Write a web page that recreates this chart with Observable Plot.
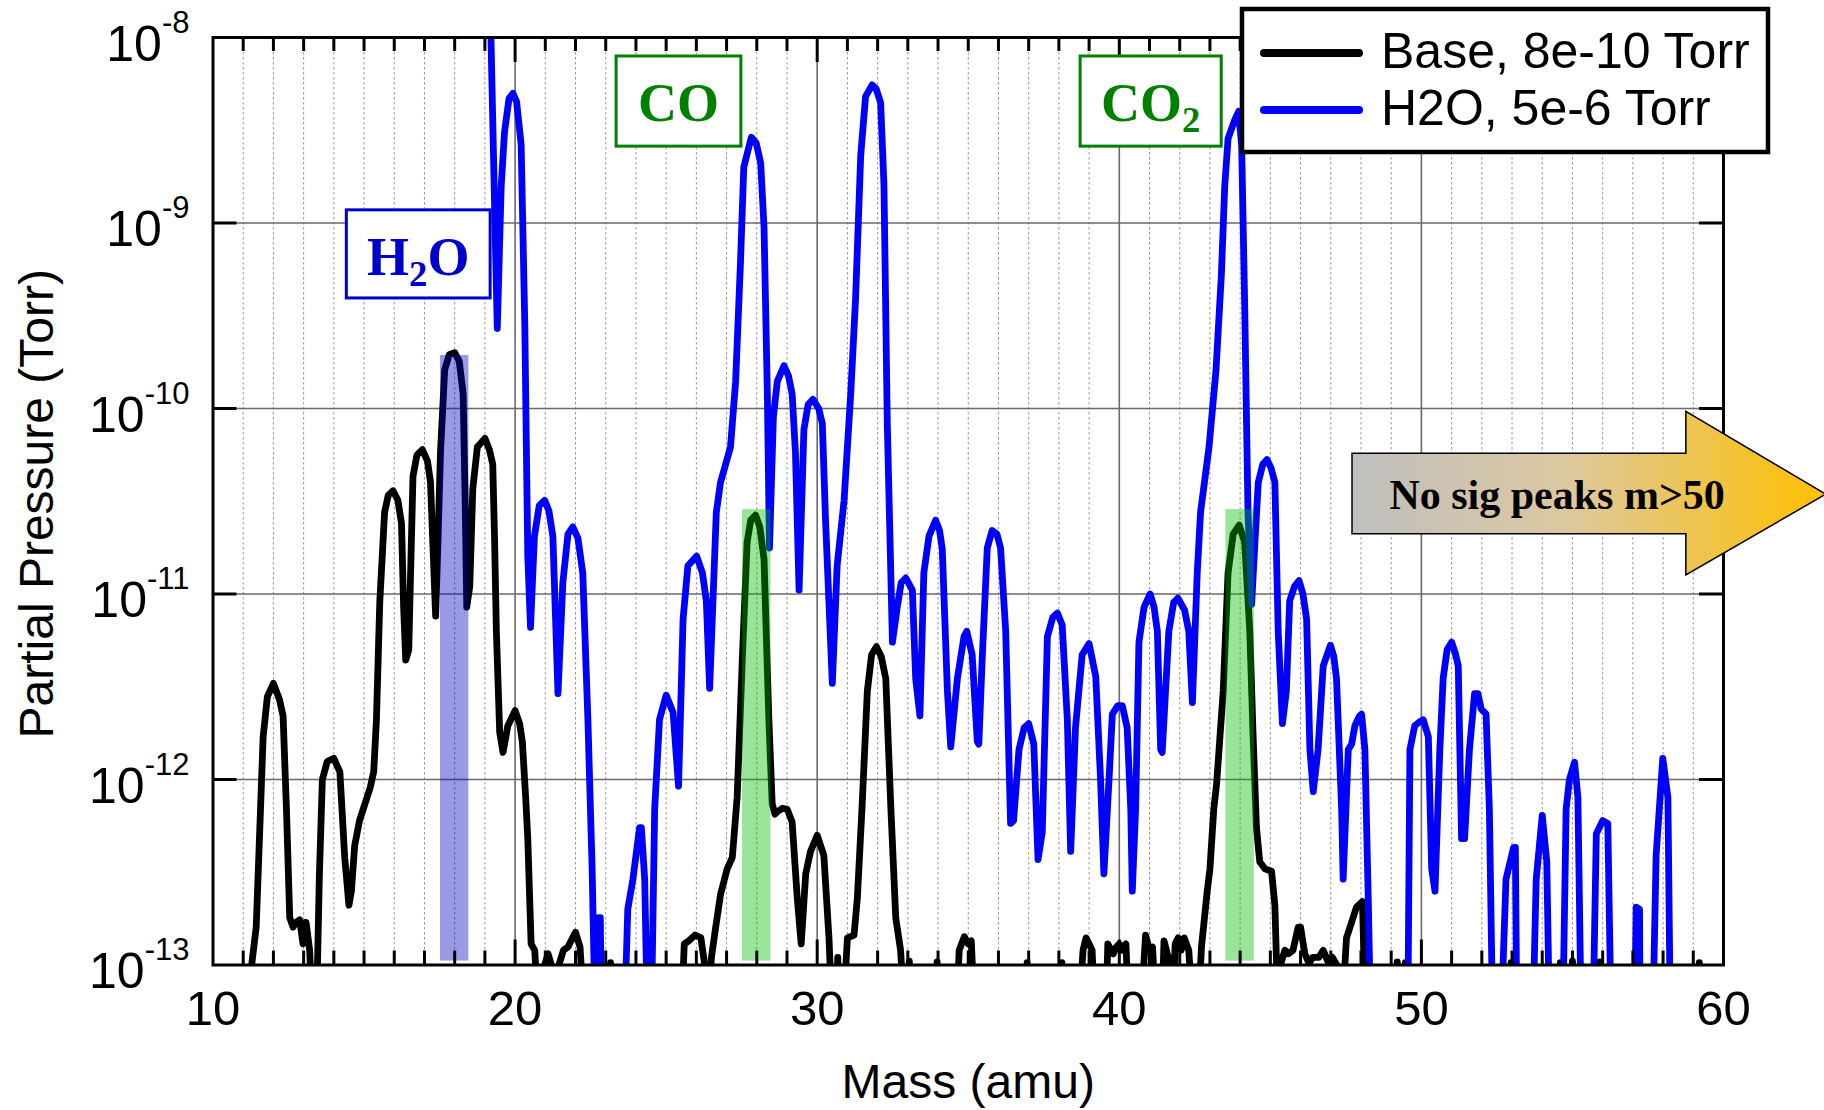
<!DOCTYPE html>
<html>
<head>
<meta charset="utf-8">
<script src="https://cdn.jsdelivr.net/npm/d3@7"></script>
<script src="https://cdn.jsdelivr.net/npm/@observablehq/plot@0.6"></script>
<style>
  html, body { margin: 0; padding: 0; background: #fff; }
  #chart { width: 1824px; height: 1110px; overflow: hidden; }
</style>
</head>
<body>
<div id="chart"></div>
<script>
// ---------------- DATA ----------------
const seriesNames = ["Base, 8e-10 Torr", "H2O, 5e-6 Torr"];

const baseMass = [
  11.20, 11.28, 11.43, 11.66, 11.80, 12.00, 12.20, 12.32, 12.43, 12.54, 12.65, 12.75, 12.87, 12.98, 13.08, 13.20, 13.30, 13.42,
  13.52, 13.62, 13.78, 14.00, 14.20, 14.36, 14.50, 14.58, 14.69, 14.85, 14.97, 15.20, 15.32, 15.41, 15.52, 15.68, 15.80, 15.96,
  16.12, 16.24, 16.31, 16.38, 16.48, 16.55, 16.62, 16.75, 16.93, 17.10, 17.20, 17.30, 17.37, 17.45, 17.53, 17.67, 17.82, 18.00,
  18.15, 18.28, 18.35, 18.40, 18.50, 18.60, 18.75, 19.00, 19.15, 19.26, 19.32, 19.38, 19.49, 19.60, 19.76, 20.00, 20.15, 20.24,
  20.35, 20.42, 20.53, 20.65, 20.78, 20.98, 21.09, 21.20, 21.30, 21.45, 21.60, 21.75, 21.90, 22.00, 22.15, 22.30, 23.10, 23.16,
  23.22, 25.50, 25.60, 25.75, 25.96, 26.15, 26.26, 26.36, 26.50, 26.64, 26.80, 27.02, 27.19, 27.35, 27.52, 27.68, 27.80, 27.96,
  28.10, 28.24, 28.33, 28.40, 28.51, 28.60, 28.68, 28.85, 29.01, 29.17, 29.34, 29.47, 29.62, 29.78, 30.00, 30.22, 30.39, 30.50,
  30.62, 30.68, 30.75, 30.85, 31.00, 31.22, 31.33, 31.49, 31.66, 31.80, 31.96, 32.12, 32.27, 32.44, 32.60, 32.76, 32.90, 33.05,
  33.15, 33.92, 33.97, 34.02, 34.60, 34.70, 34.87, 35.00, 35.10, 35.22, 36.90, 36.95, 37.00, 38.05, 38.10, 38.15, 38.65, 38.80,
  38.90, 39.00, 39.10, 39.20, 39.55, 39.62, 39.80, 39.90, 40.00, 40.10, 40.22, 40.32, 40.70, 40.87, 41.00, 41.10, 41.22, 41.40,
  41.48, 41.62, 41.75, 41.85, 41.95, 42.05, 42.15, 42.30, 42.45, 42.60, 42.72, 42.91, 43.00, 43.13, 43.22, 43.44, 43.60, 43.77,
  43.97, 44.15, 44.32, 44.43, 44.54, 44.65, 44.82, 45.04, 45.15, 45.26, 45.35, 45.48, 45.60, 45.75, 45.92, 46.00, 46.14, 46.28,
  46.40, 46.60, 46.75, 46.90, 47.05, 47.20, 47.36, 47.52, 47.69, 47.85, 48.05, 48.15, 49.15, 49.20, 49.28, 49.42, 49.47, 49.52,
  52.92, 52.97, 53.02, 54.55, 54.60, 54.65, 54.95, 55.00, 55.05, 55.85, 55.90, 55.95, 59.15, 59.20, 59.25
];
const basePressure = [
  5e-14, 1.0e-13, 1.6e-13, 1.7e-12, 2.8e-12, 3.3e-12, 2.7e-12, 2.2e-12, 7e-13, 1.8e-13, 1.6e-13, 1.7e-13, 1.75e-13, 1.3e-13, 1.7e-13, 1.2e-13, 5e-14, 5e-14,
  3e-13, 1.0e-12, 1.25e-12, 1.3e-12, 1.1e-12, 3.8e-13, 2.1e-13, 2.5e-13, 4.4e-13, 6e-13, 6.9e-13, 9e-13, 1.1e-12, 2.1e-12, 9e-12, 2.76e-11, 3.4e-11, 3.6e-11,
  3.2e-11, 2.4e-11, 8.5e-12, 4.4e-12, 5e-12, 1.5e-11, 4.3e-11, 5.6e-11, 6e-11, 5.2e-11, 4e-11, 1.5e-11, 7.6e-12, 2e-11, 5.8e-11, 1.62e-10, 1.95e-10, 2.0e-10,
  1.8e-10, 1.2e-10, 3e-11, 8.5e-12, 1.1e-11, 3.7e-11, 6.2e-11, 6.9e-11, 6e-11, 5e-11, 2e-11, 6.3e-12, 1.8e-12, 1.4e-12, 1.95e-12, 2.35e-12, 2.0e-12, 1.6e-12,
  8e-13, 4.8e-13, 1.3e-13, 1.2e-13, 5e-14, 1.0e-13, 1.15e-13, 1.0e-13, 5e-14, 1.0e-13, 1.2e-13, 1.25e-13, 1.4e-13, 1.5e-13, 1.25e-13, 5e-14, 5e-14, 1.03e-13,
  5e-14, 5e-14, 1.3e-13, 1.35e-13, 1.45e-13, 1.4e-13, 1.05e-13, 5e-14, 1.1e-13, 1.6e-13, 2.4e-13, 3.3e-13, 3.8e-13, 8e-13, 4.4e-12, 1.9e-11, 2.5e-11, 2.66e-11,
  2.3e-11, 1.54e-11, 5e-12, 2.1e-12, 7.4e-13, 6.5e-13, 6.7e-13, 7e-13, 6.9e-13, 5.9e-13, 2.3e-13, 1.3e-13, 3.1e-13, 4.1e-13, 5e-13, 3.9e-13, 1.4e-13, 5e-14,
  5e-14, 1.1e-13, 5e-14, 5e-14, 1.4e-13, 1.45e-13, 2.3e-13, 7.4e-13, 3.0e-12, 4.7e-12, 5.2e-12, 4.6e-12, 3.5e-12, 6.9e-13, 1.8e-13, 1.2e-13, 5e-14, 1.05e-13,
  5e-14, 5e-14, 1.04e-13, 5e-14, 5e-14, 1.2e-13, 1.42e-13, 1.3e-13, 1.35e-13, 5e-14, 5e-14, 1.03e-13, 5e-14, 5e-14, 1.03e-13, 5e-14, 5e-14, 1.2e-13,
  1.4e-13, 1.3e-13, 1.2e-13, 5e-14, 5e-14, 1.3e-13, 1.15e-13, 1.25e-13, 1.3e-13, 1.2e-13, 1.3e-13, 5e-14, 5e-14, 1.45e-13, 1.2e-13, 1.25e-13, 5e-14, 5e-14,
  1.35e-13, 1.1e-13, 5e-14, 1.3e-13, 1.4e-13, 1.2e-13, 1.4e-13, 1.2e-13, 5e-14, 5e-14, 1.25e-13, 2.5e-13, 3.3e-13, 7e-13, 9.4e-13, 3.0e-12, 1.3e-11, 2.1e-11,
  2.35e-11, 1.9e-11, 6.3e-12, 1.7e-12, 5.5e-13, 3.6e-13, 3.3e-13, 3.2e-13, 2.1e-13, 5e-14, 1.02e-13, 1.2e-13, 1.15e-13, 1.2e-13, 1.6e-13, 1.6e-13, 1.15e-13, 1.02e-13,
  1.1e-13, 1.1e-13, 1.2e-13, 1.05e-13, 1.1e-13, 1.0e-13, 5e-14, 1.4e-13, 1.7e-13, 2.05e-13, 2.2e-13, 5e-14, 5e-14, 1.04e-13, 5e-14, 5e-14, 1.03e-13, 5e-14,
  5e-14, 1.03e-13, 5e-14, 5e-14, 1.03e-13, 5e-14, 5e-14, 1.05e-13, 5e-14, 5e-14, 1.04e-13, 5e-14, 5e-14, 1.03e-13, 5e-14
];

const h2oMass = [
  19.19, 19.41, 19.54, 19.65, 19.80, 19.93, 20.05, 20.20, 20.32, 20.42, 20.51, 20.64, 20.80, 20.98, 21.12, 21.25, 21.42, 21.58,
  21.75, 21.91, 22.08, 22.24, 22.41, 22.55, 22.65, 22.72, 22.76, 22.82, 22.86, 23.62, 23.73, 23.90, 24.12, 24.18, 24.29, 24.38,
  24.51, 24.62, 24.78, 25.00, 25.23, 25.41, 25.56, 25.72, 26.01, 26.20, 26.33, 26.44, 26.66, 26.80, 27.13, 27.30, 27.46, 27.57,
  27.82, 27.98, 28.13, 28.24, 28.35, 28.42, 28.55, 28.68, 28.90, 29.05, 29.17, 29.28, 29.40, 29.56, 29.70, 29.86, 30.05, 30.17,
  30.28, 30.50, 30.66, 30.89, 31.11, 31.27, 31.44, 31.60, 31.82, 31.95, 32.10, 32.21, 32.32, 32.49, 32.65, 32.78, 32.93, 33.15,
  33.26, 33.40, 33.53, 33.70, 33.92, 34.05, 34.14, 34.31, 34.42, 34.64, 34.86, 34.95, 35.13, 35.30, 35.35, 35.46, 35.63, 35.79,
  35.95, 36.07, 36.24, 36.40, 36.50, 36.68, 36.85, 37.00, 37.17, 37.31, 37.45, 37.62, 37.80, 37.95, 38.11, 38.28, 38.39, 38.55,
  38.77, 39.00, 39.22, 39.38, 39.49, 39.66, 39.77, 39.95, 40.10, 40.26, 40.38, 40.43, 40.54, 40.65, 40.82, 41.02, 41.15, 41.26,
  41.37, 41.42, 41.64, 41.80, 41.94, 42.16, 42.30, 42.42, 42.58, 42.69, 42.97, 43.20, 43.38, 43.49, 43.60, 43.82, 43.95, 44.05,
  44.15, 44.26, 44.38, 44.49, 44.60, 44.75, 44.89, 45.02, 45.15, 45.26, 45.40, 45.53, 45.64, 45.80, 45.95, 46.08, 46.20, 46.31,
  46.42, 46.58, 46.75, 46.99, 47.10, 47.19, 47.36, 47.41, 47.58, 47.69, 47.80, 47.95, 48.02, 48.13, 48.24, 48.32, 49.55, 49.62,
  49.78, 49.95, 50.06, 50.23, 50.34, 50.45, 50.61, 50.72, 50.85, 51.00, 51.12, 51.22, 51.33, 51.43, 51.59, 51.76, 51.87, 51.98,
  52.14, 52.25, 52.36, 52.64, 52.80, 53.05, 53.11, 53.16, 53.69, 53.80, 54.00, 54.15, 54.24, 54.68, 54.79, 54.90, 55.07, 55.18,
  55.29, 55.68, 55.79, 56.00, 56.17, 56.28, 57.06, 57.11, 57.22, 57.24, 57.66, 57.77, 57.99, 58.16, 58.24
];
const h2oPressure = [
  1.2e-8, 2.7e-10, 1.58e-9, 3.1e-9, 4.7e-9, 5e-9, 4.5e-9, 2.65e-9, 2.9e-10, 1.6e-11, 6.6e-12, 2.05e-11, 3e-11, 3.2e-11, 2.8e-11, 2.05e-11, 2.9e-12, 1.15e-11,
  2.1e-11, 2.3e-11, 2e-11, 1.3e-11, 2.1e-12, 3.3e-13, 5e-14, 5e-14, 1.8e-13, 1.8e-13, 5e-14, 5e-14, 2e-13, 2.9e-13, 5.5e-13, 5.5e-13, 2.9e-13, 5e-14,
  5e-14, 6.9e-13, 2.1e-12, 2.85e-12, 2.3e-12, 9.2e-13, 7.3e-12, 1.42e-11, 1.6e-11, 1.3e-11, 9.2e-12, 3.1e-12, 2.75e-11, 4e-11, 6.2e-11, 1.4e-10, 6.1e-10, 2.0e-9,
  2.9e-9, 2.7e-9, 2.1e-9, 9.5e-10, 1.2e-10, 1.77e-11, 9e-11, 1.4e-10, 1.7e-10, 1.5e-10, 1.2e-10, 5.8e-11, 1.05e-11, 7.7e-11, 1.05e-10, 1.12e-10, 1.0e-10, 8.3e-11,
  2.4e-11, 3.3e-12, 1.42e-11, 3.2e-11, 1.2e-10, 3.9e-10, 2.3e-9, 4.8e-9, 5.55e-9, 5.3e-9, 4.45e-9, 1.6e-9, 8.3e-11, 5.5e-12, 8.5e-12, 1.15e-11, 1.22e-11, 1.05e-11,
  3.5e-12, 2.2e-12, 1.3e-11, 2.05e-11, 2.5e-11, 2.2e-11, 1.75e-11, 3e-12, 1.5e-12, 3.5e-12, 5.9e-12, 6.3e-12, 4.7e-12, 1.6e-12, 1.55e-12, 4.4e-12, 1.77e-11, 2.2e-11,
  2.1e-11, 1.77e-11, 6.3e-12, 5.8e-13, 6e-13, 1.45e-12, 1.9e-12, 2.0e-12, 1.55e-12, 3.7e-13, 5.2e-13, 5.9e-12, 7.5e-12, 7.9e-12, 6.8e-12, 2.1e-12, 4.1e-13, 1.9e-12,
  4.7e-12, 5.4e-12, 3.6e-12, 1e-12, 3.1e-13, 1e-12, 2.25e-12, 2.5e-12, 2.5e-12, 1.9e-12, 6.9e-13, 2.5e-13, 6.9e-13, 5.5e-12, 8.5e-12, 1.0e-11, 8.5e-12, 6.3e-12,
  1.45e-12, 1.4e-12, 6.3e-12, 9e-12, 9.5e-12, 8.2e-12, 6.3e-12, 2.6e-12, 1.3e-11, 2.76e-11, 6.2e-11, 1.6e-10, 5.3e-10, 1.58e-9, 2.85e-9, 3.6e-9, 4.0e-9, 2.6e-9,
  3.65e-10, 2.75e-11, 8.8e-12, 1.9e-11, 4e-11, 5e-11, 5.3e-11, 4.8e-11, 4e-11, 6.3e-12, 2.0e-12, 3e-12, 9.2e-12, 1.1e-11, 1.18e-11, 1.0e-11, 7.3e-12, 1.45e-12,
  8.6e-13, 1.45e-12, 4.1e-12, 5.3e-12, 4.6e-12, 3.5e-12, 6.9e-13, 2.9e-13, 1.45e-12, 1.55e-12, 1.95e-12, 2.2e-12, 2.25e-12, 1.45e-12, 2.3e-13, 5e-14, 5e-14, 1.45e-12,
  1.95e-12, 2.05e-12, 2.1e-12, 1.7e-12, 3.3e-13, 2.5e-13, 1.45e-12, 3.5e-12, 5e-12, 5.5e-12, 4.8e-12, 4.1e-12, 4.8e-13, 4.8e-13, 1.45e-12, 2.9e-12, 2.9e-12, 2.4e-12,
  2.25e-12, 6.9e-13, 5e-14, 5e-14, 2.9e-13, 4.3e-13, 4.3e-13, 5e-14, 5e-14, 2.9e-13, 6.4e-13, 3.6e-13, 5e-14, 5e-14, 6.9e-13, 1.0e-12, 1.24e-12, 8e-13,
  5e-14, 5e-14, 5.1e-13, 6e-13, 5.8e-13, 5e-14, 5e-14, 2.05e-13, 2.0e-13, 5e-14, 5e-14, 3.9e-13, 1.3e-12, 8e-13, 5e-14
];

// highlighted species bands (mass, top of band in Torr)
const bandMass = [18, 28, 44];
const bandTop = [1.93e-10, 2.85e-11, 2.85e-11];
const bandSpecies = ["H2O", "CO", "CO2"];

// axes
const xTickValues = [10, 20, 30, 40, 50, 60];
const xMajorInner = [20, 30, 40, 50];
const xMinor = d3.range(11, 60).filter(m => m % 10 !== 0);
const yTickValues = [1e-13, 1e-12, 1e-11, 1e-10, 1e-9, 1e-8];
const yInner = [1e-12, 1e-11, 1e-10, 1e-9];
const xTitle = "Mass (amu)";
const yTitle = "Partial Pressure (Torr)";

// annotations (species boxes, in data units) and arrow note
const noteLabels = ["H_2O", "CO", "CO_2"];
const noteMass1 = [14.43, 23.36, 38.72];
const noteMass2 = [19.19, 27.49, 43.39];
const noteTop = [1.17e-9, 7.9e-9, 7.9e-9];
const noteBottom = [3.92e-10, 2.58e-9, 2.58e-9];
const arrowText = "No sig peaks m>50";

// ---------------- STYLE ----------------
const W = 1824, H = 1110;
const M = {top: 37, right: 101, bottom: 145.5, left: 212.5};
const FW = W - M.left - M.right, FH = H - M.top - M.bottom;
const SANS = "'Liberation Sans', Arial, Helvetica, sans-serif";
const SERIF = "'Liberation Serif', 'Times New Roman', Times, serif";
const seriesColors = ["#000000", "#0000ff"];
const bandColors = ["#0000c0", "#00bb00", "#00bb00"];
const noteColors = ["#0000cc", "#008000", "#008000"];
const LINE_W = 6.8;

const base = baseMass.map((m, i) => ({mass: m, p: basePressure[i]}));
const h2o = h2oMass.map((m, i) => ({mass: m, p: h2oPressure[i]}));
const bands = bandMass.map((m, i) => ({mass: m, top: bandTop[i], color: bandColors[i], name: bandSpecies[i]}));

const plot = Plot.plot({
  width: W, height: H,
  marginTop: M.top, marginRight: M.right, marginBottom: M.bottom, marginLeft: M.left,
  x: {domain: [10, 60], axis: null},
  y: {type: "log", domain: [1e-13, 1e-8], axis: null},
  color: {type: "identity"},
  style: {fontFamily: SANS, background: "#fff", overflow: "visible", color: "#000"},
  marks: [
    Plot.ruleX(xMinor, {stroke: "#969696", strokeWidth: 1, strokeDasharray: "2.5,2.5"}),
    Plot.ruleX(xMajorInner, {stroke: "#6a6a6a", strokeWidth: 1.6}),
    Plot.ruleY(yInner, {stroke: "#6a6a6a", strokeWidth: 1.6}),
    Plot.line(base, {x: "mass", y: "p", stroke: seriesColors[0], strokeWidth: LINE_W, clip: true}),
    Plot.line(h2o, {x: "mass", y: "p", stroke: seriesColors[1], strokeWidth: LINE_W, clip: true}),
    Plot.rect(bands, {x1: d => d.mass - 0.47, x2: d => d.mass + 0.47, y1: 1.05e-13, y2: "top", fill: "color", fillOpacity: 0.4}),
    // inward ticks
    Plot.ruleX(xMinor, {stroke: "#000", strokeWidth: 3, insetTop: FH - 14}),
    Plot.ruleX(xMinor, {stroke: "#000", strokeWidth: 3, insetBottom: FH - 14}),
    Plot.ruleX(xMajorInner, {stroke: "#000", strokeWidth: 3, insetTop: FH - 25}),
    Plot.ruleX(xMajorInner, {stroke: "#000", strokeWidth: 3, insetBottom: FH - 25}),
    Plot.ruleY(yInner, {stroke: "#000", strokeWidth: 3, insetRight: FW - 24}),
    Plot.ruleY(yInner, {stroke: "#000", strokeWidth: 3, insetLeft: FW - 24}),
    Plot.frame({stroke: "#000", strokeWidth: 3}),
    Plot.axisX(xTickValues, {tickSize: 0, tickPadding: 25, fontSize: 49, label: null, tickFormat: d => String(d)}),
    Plot.axisY(yTickValues, {tickSize: 0, tickPadding: 23.5, fontSize: 50, label: null, dy: 7,
      tickFormat: d => "10^" + Math.round(Math.log10(d))}),
    Plot.text([xTitle], {frameAnchor: "bottom", lineAnchor: "middle", textAnchor: "middle", dy: 118, fontSize: 48}),
    Plot.text([yTitle], {frameAnchor: "left", lineAnchor: "middle", textAnchor: "middle", dx: -175, dy: 2.5, rotate: -90, fontSize: 48})
  ]
});

document.getElementById("chart").appendChild(plot);

// superscript exponents for the y tick labels
const NS = "http://www.w3.org/2000/svg";
plot.querySelectorAll("text").forEach(t => {
  const s = t.textContent;
  if (/^10\^/.test(s)) {
    const exp = s.split("^")[1];
    while (t.firstChild) t.removeChild(t.firstChild);
    const a = document.createElementNS(NS, "tspan"); a.textContent = "10";
    const b = document.createElementNS(NS, "tspan"); b.textContent = exp;
    b.setAttribute("font-size", "31"); b.setAttribute("dy", "-28");
    t.appendChild(a); t.appendChild(b);
  }
});

// ---------------- ANNOTATIONS ----------------
const sx = plot.scale("x"), sy = plot.scale("y");
const X = v => sx.apply(v), Y = v => sy.apply(v);
const svg = d3.select(plot);

function subText(g, str, x, y, size, color) {
  const t = g.append("text").attr("x", x).attr("y", y).attr("text-anchor", "middle")
    .attr("font-family", SERIF).attr("font-weight", "bold").attr("font-size", size).attr("fill", color);
  const parts = str.split("_");
  t.append("tspan").text(parts[0]);
  if (parts.length > 1) {
    t.append("tspan").attr("font-size", size * 0.68).attr("dy", 11).text(parts[1][0]);
    if (parts[1].length > 1) t.append("tspan").attr("dy", -11).text(parts[1].slice(1));
  }
}

const notes = svg.append("g").attr("class", "notes");
noteLabels.forEach((lab, i) => {
  const x1 = X(noteMass1[i]), x2 = X(noteMass2[i]), y1 = Y(noteTop[i]), y2 = Y(noteBottom[i]);
  notes.append("rect").attr("x", x1).attr("y", y1).attr("width", x2 - x1).attr("height", y2 - y1)
    .attr("fill", "#fff").attr("stroke", noteColors[i]).attr("stroke-width", 3);
  subText(notes, lab, (x1 + x2) / 2, y1 + 65, 54, noteColors[i]);
});

// arrow (data-space geometry)
const arrowMass = {tail: 47.72, neck: 58.77, tip: 63.4};
const arrowP = {bodyTop: 5.7e-11, bodyBottom: 2.1e-11, headTop: 9.6e-11, headBottom: 1.26e-11, tip: 3.43e-11};
const defs = svg.append("defs");
const grad = defs.append("linearGradient").attr("id", "arrowGrad").attr("x1", "0").attr("x2", "1").attr("y1", "0").attr("y2", "0");
grad.append("stop").attr("offset", "0%").attr("stop-color", "#bfbfbf");
grad.append("stop").attr("offset", "45%").attr("stop-color", "#dcc8a0");
grad.append("stop").attr("offset", "100%").attr("stop-color", "#ffc000");
const pts = [
  [X(arrowMass.tail), Y(arrowP.bodyTop)], [X(arrowMass.neck), Y(arrowP.bodyTop)], [X(arrowMass.neck), Y(arrowP.headTop)],
  [X(arrowMass.tip), Y(arrowP.tip)], [X(arrowMass.neck), Y(arrowP.headBottom)], [X(arrowMass.neck), Y(arrowP.bodyBottom)],
  [X(arrowMass.tail), Y(arrowP.bodyBottom)]
];
svg.append("polygon").attr("points", pts.map(p => p.join(",")).join(" "))
  .attr("fill", "url(#arrowGrad)").attr("stroke", "#000").attr("stroke-width", 1.5);
svg.append("text").attr("x", X(54.51)).attr("y", Y(2.86e-11)).attr("text-anchor", "middle")
  .attr("font-family", SERIF).attr("font-weight", "bold").attr("font-size", 42).attr("fill", "#000").text(arrowText);

// legend (layout box in pixels, top-right)
const lg = svg.append("g").attr("class", "legend");
lg.append("rect").attr("x", 1242).attr("y", 9).attr("width", 526).attr("height", 143)
  .attr("fill", "#fff").attr("stroke", "#000").attr("stroke-width", 4.5);
seriesNames.forEach((name, i) => {
  const yy = 53 + i * 57;
  lg.append("line").attr("x1", 1264).attr("x2", 1359).attr("y1", yy).attr("y2", yy)
    .attr("stroke", seriesColors[i]).attr("stroke-width", 8).attr("stroke-linecap", "round");
  lg.append("text").attr("x", 1381).attr("y", yy + 15).attr("text-anchor", "start")
    .attr("font-family", SANS).attr("font-size", 50).attr("fill", "#000").text(name);
});
</script>
</body>
</html>
